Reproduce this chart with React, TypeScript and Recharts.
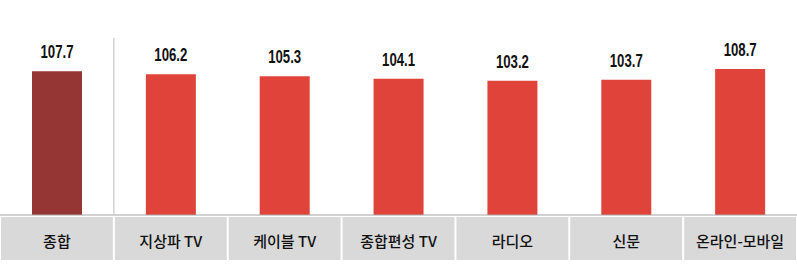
import React from 'react';
import { BarChart, Bar, XAxis, YAxis, Cell, LabelList } from 'recharts';

const categories = ['종합', '지상파 TV', '케이블 TV', '종합편성 TV', '라디오', '신문', '온라인-모바일'];
const values = [107.7, 106.2, 105.3, 104.1, 103.2, 103.7, 108.7];
const barColors = ['#963634', '#e0433a', '#e0433a', '#e0433a', '#e0433a', '#e0433a', '#e0433a'];

const data = categories.map((c, i) => ({ name: c, value: values[i] }));

const W = 797;
const H = 264;
const CW = W / categories.length;

const Tick = (props: any) => {
  const { x, y, payload, index } = props;
  return (
    <g>
      <rect x={x - CW / 2 + 1} y={y + 2} width={CW - 2} height={43} fill="#d9d9d9" />
      <text
        x={x}
        y={y + 25}
        textAnchor="middle"
        dominantBaseline="central"
        fontSize={15}
        fontWeight={500}
        fill="#111"
        fontFamily="'Noto Sans CJK KR', 'Noto Sans', sans-serif"
      >
        {payload.value}
      </text>
      {index === 0 ? (
        <line x1={x + CW / 2} x2={x + CW / 2} y1={y - 177} y2={y} stroke="#bfbfbf" strokeWidth={1} />
      ) : null}
    </g>
  );
};

const ValueLabel = (props: any) => {
  const { x, y, width, value } = props;
  const s = value.toFixed(1);
  return (
    <text
      x={x + width / 2}
      y={y - 13}
      textAnchor="middle"
      fontSize={19}
      fontWeight="bold"
      fill="#111"
      textLength={s.length * 6.6}
      lengthAdjust="spacingAndGlyphs"
      fontFamily="'Liberation Sans', 'Noto Sans', sans-serif"
    >
      {s}
    </text>
  );
};

export default function App() {
  return (
    <div style={{ position: 'absolute', left: 0, top: 0, width: W, height: H, background: '#fff' }}>
      <BarChart width={W} height={H} data={data} margin={{ top: 45, right: 0, bottom: 0, left: 0 }}>
        <XAxis
          dataKey="name"
          height={49}
          tickLine={false}
          tickSize={0}
          tickMargin={0}
          axisLine={{ stroke: '#a6a6a6' }}
          tick={<Tick />}
          interval={0}
        />
        <YAxis hide domain={[40, 120]} />
        <Bar dataKey="value" barSize={50} isAnimationActive={false}>
          {data.map((d, i) => (
            <Cell key={d.name} fill={barColors[i]} />
          ))}
          <LabelList dataKey="value" content={<ValueLabel />} />
        </Bar>
      </BarChart>
    </div>
  );
}
